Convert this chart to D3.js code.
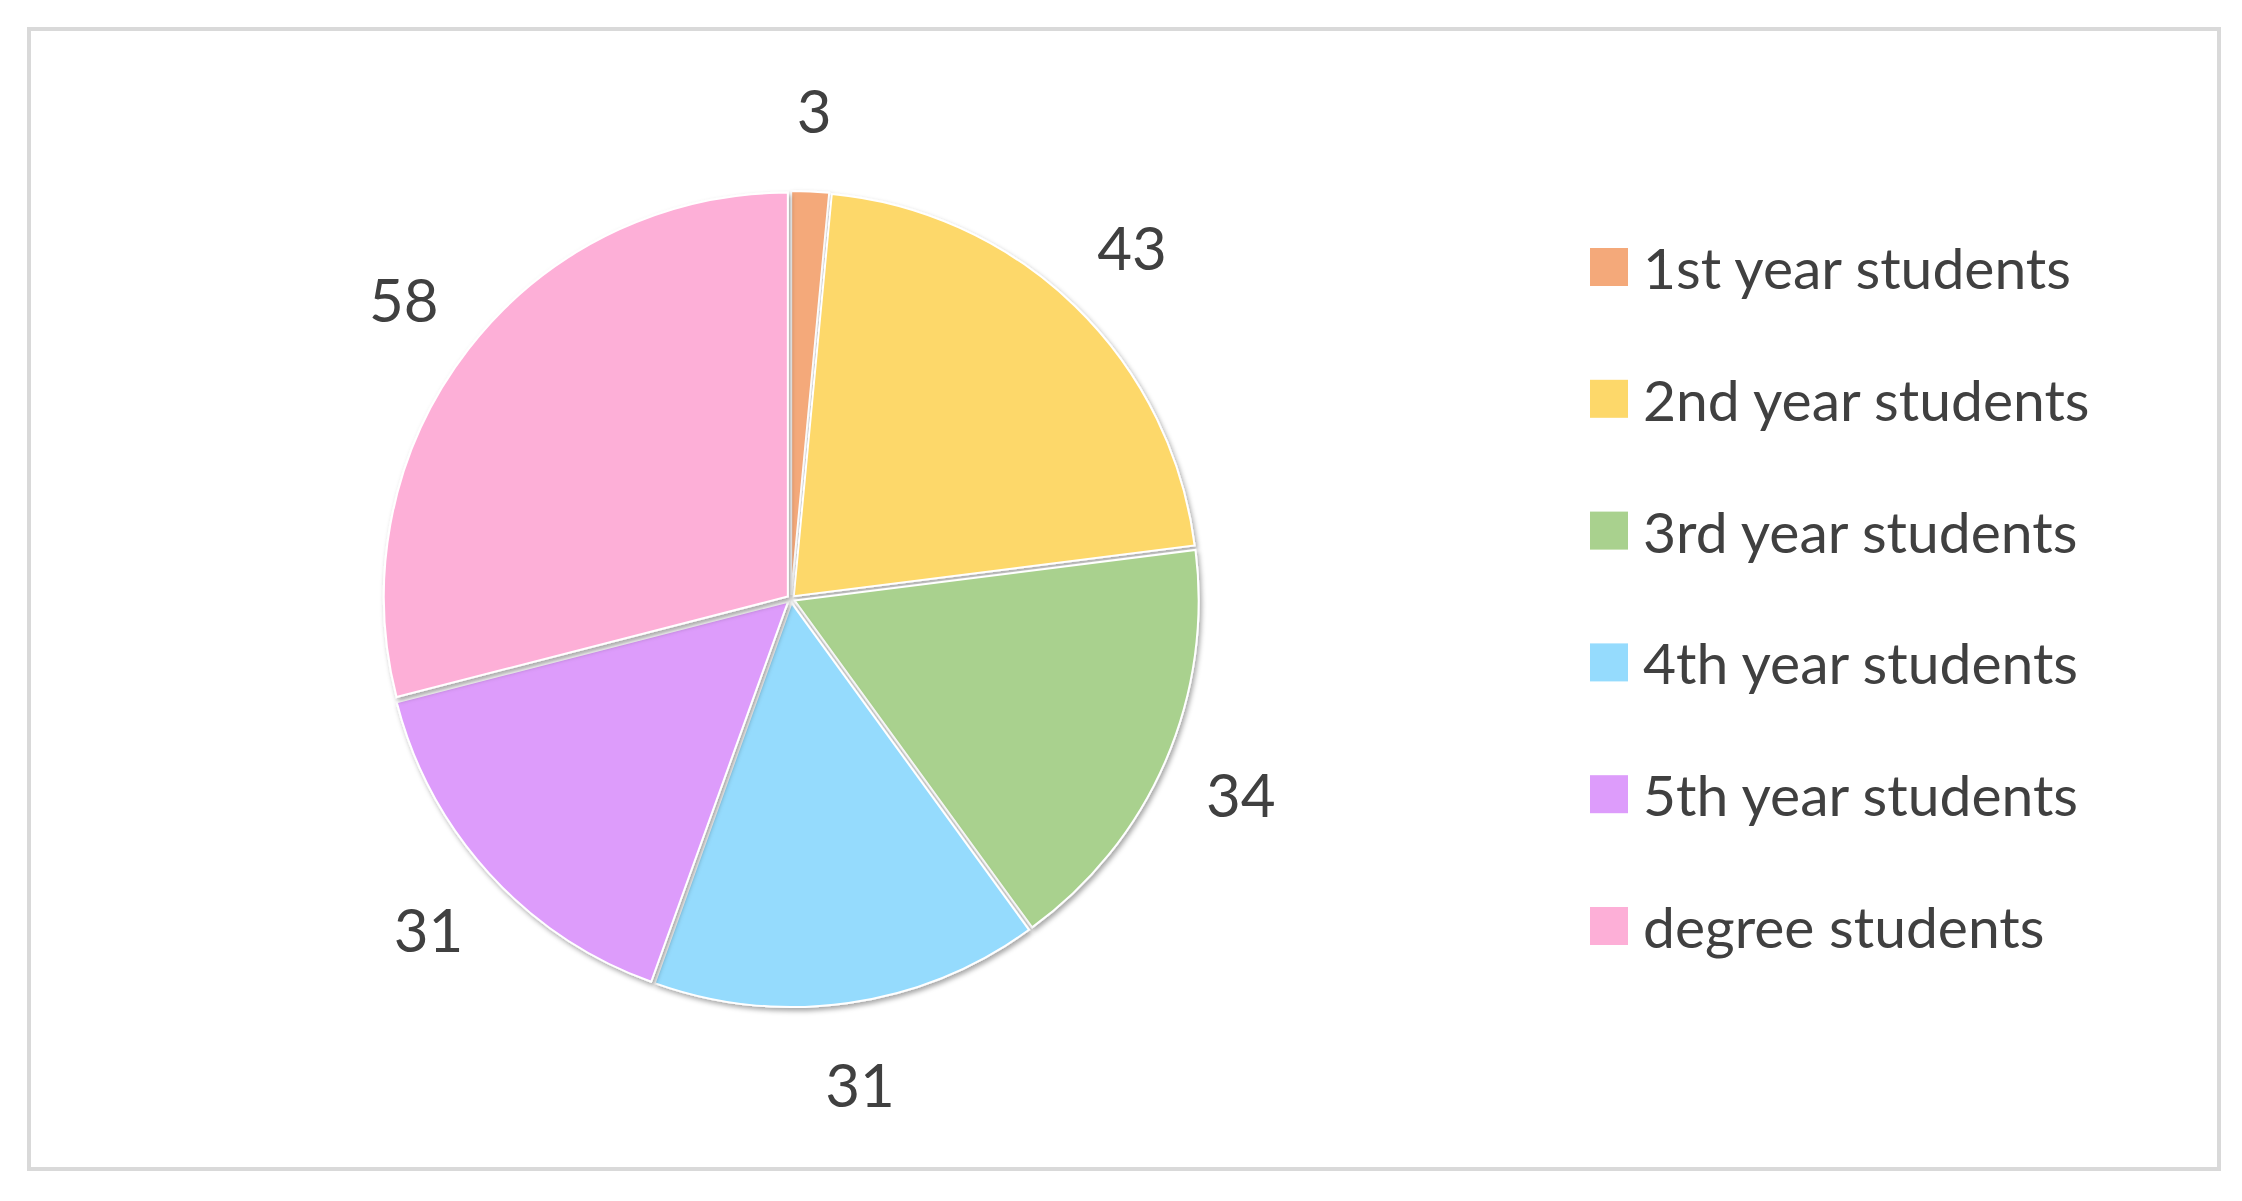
<!DOCTYPE html>
<html lang="en">
<head>
    <meta charset="UTF-8">
    <script src="https://d3js.org/d3.v7.min.js"></script>
    <style>
        body{ margin:0; background:#fff; }
        text{ font-family: Lato, "Open Sans", sans-serif; fill:#404040; }
    </style>
</head>
<body>
<svg width="2242" height="1201"></svg>
<script>
let categories = ["1st year students","2nd year students","3rd year students","4th year students","5th year students","degree students"]
let values = [3, 43, 34, 31, 31, 58]
let colors = ["#F4A97A","#FDD86A","#A9D18E","#95DBFD","#DD9CFB","#FDAFD7"]

let svg = d3.select("svg")
// frame
svg.append("rect").attr("x",29).attr("y",29).attr("width",2190).attr("height",1140)
    .attr("fill","none").attr("stroke","#d9d9d9").attr("stroke-width",4)

let defs = svg.append("defs")
let f = defs.append("filter").attr("id","sh").attr("x","-20%").attr("y","-20%").attr("width","140%").attr("height","140%")
f.append("feDropShadow").attr("dx",2).attr("dy",3).attr("stdDeviation",2.5).attr("flood-color","#000").attr("flood-opacity",0.35)

let cx = 791, cy = 599, r = 404
let pie = d3.pie().sort(null)(values)
let arc = d3.arc().innerRadius(0).outerRadius(r)
let labelArc = d3.arc().innerRadius(490).outerRadius(490)

let g = svg.append("g").attr("transform",`translate(${cx},${cy})`)
g.selectAll("path").data(pie).enter().append("path")
    .attr("transform", d => {
        let [x,y] = d3.arc().innerRadius(0).outerRadius(10).centroid(d)
        let m = Math.hypot(x,y)
        return `translate(${x/m*4},${y/m*4})`
    })
    .attr("d",arc)
    .attr("fill",(d,i)=>colors[i])
    .attr("stroke","#fff").attr("stroke-width",2)
    .attr("filter","url(#sh)")

g.selectAll("text.lab").data(pie).enter().append("text").attr("class","lab")
    .attr("x",d=>labelArc.centroid(d)[0])
    .attr("y",d=>labelArc.centroid(d)[1])
    .attr("text-anchor","middle").attr("dominant-baseline","central")
    .style("font-size","60px")
    .text(d=>d.data)

let lg = svg.append("g")
let ly = d3.scalePoint().domain(categories).range([267,926])
categories.forEach((c,i)=>{
    lg.append("rect").attr("x",1590).attr("y",ly(c)-19).attr("width",38).attr("height",38).attr("fill",colors[i])
    lg.append("text").attr("x",1643).attr("y",ly(c)).attr("dominant-baseline","central")
        .style("font-size","57px").text(c)
})
</script>
</body>
</html>
